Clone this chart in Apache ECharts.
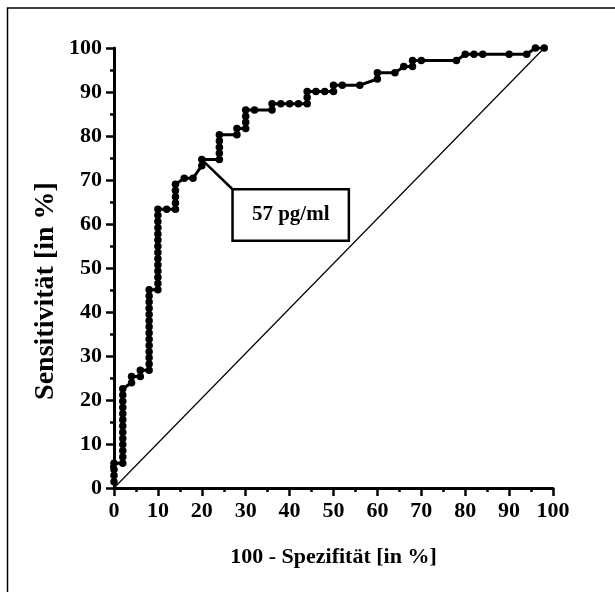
<!DOCTYPE html>
<html>
<head>
<meta charset="utf-8">
<script src="https://cdn.jsdelivr.net/npm/echarts@6/dist/echarts.min.js"></script>
<style>
html,body{margin:0;padding:0;background:#fff;}
#chart{width:615px;height:592px;}
</style>
</head>
<body>
<div id="chart"></div>
<script>
// 100 - Spezifität [%]
const fpr = [
  0,0,0,0,
  2,2,2,2,2,2,2,2,2,2,2,2,2,
  4,4,
  6,6,
  8,8,8,8,8,8,8,8,8,8,8,8,8,8,
  10,10,10,10,10,10,10,10,10,10,10,10,10,10,
  12,
  14,14,14,14,14,
  16,18,
  20,20,
  24,24,24,24,24,
  28,28,
  30,30,30,30,
  32,
  36,36,
  38,40,
  42,44,44,44,
  46,48,
  50,50,
  52,56,
  60,60,
  64,66,
  68,68,
  70,78,
  80,82,84,90,94,
  96,98
];
// Sensitivität [%]
const sens = [
  1.41,2.82,4.23,5.63,
  5.63,7.04,8.45,9.86,11.27,12.68,14.08,15.49,16.90,18.31,19.72,21.13,22.54,
  23.94,25.35,
  25.35,26.76,
  26.76,28.17,29.58,30.99,32.39,33.80,35.21,36.62,38.03,39.44,40.85,42.25,43.66,45.07,
  45.07,46.48,47.89,49.30,50.70,52.11,53.52,54.93,56.34,57.75,59.15,60.56,61.97,63.38,
  63.38,
  63.38,64.79,66.20,67.61,69.01,
  70.42,70.42,
  73.24,74.65,
  74.65,76.06,77.46,78.87,80.28,
  80.28,81.69,
  81.69,83.10,84.51,85.92,
  85.92,
  85.92,87.32,
  87.32,87.32,
  87.32,87.32,88.73,90.14,
  90.14,90.14,
  90.14,91.55,
  91.55,91.55,
  92.96,94.37,
  94.37,95.77,
  95.77,97.18,
  97.18,97.18,
  98.59,98.59,98.59,98.59,98.59,
  100,100
];
const xTicks = [0,10,20,30,40,50,60,70,80,90,100];
const yTicks = [0,10,20,30,40,50,60,70,80,90,100];
const diagonal = [[0,0],[98,100]];
const cutoffPoint = [20,74.65];
const cutoffLabel = '57 pg/ml';
const boxTopLeft = [27,67.9];
const boxBottomRight = [53.5,56.2];
const xTitle = '100 - Spezifität [in %]';
const yTitle = 'Sensitivität [in %]';

const rocData = fpr.map((x,i)=>[x,sens[i]]);
const font = 'Liberation Serif';
const axisCommon = {
  type:'value', min:0, max:100, interval:10,
  axisLine:{show:true, onZero:false, lineStyle:{color:'#000', width:3}},
  axisTick:{show:true, length:8, lineStyle:{color:'#000', width:2.5}},
  minorTick:{show:true, splitNumber:2, length:4, lineStyle:{color:'#000', width:2.5}},
  splitLine:{show:false}, minorSplitLine:{show:false},
  nameLocation:'middle',
  nameTextStyle:{fontFamily:font, fontWeight:'bold', fontSize:22, color:'#000'}
};
const chart = echarts.init(document.getElementById('chart'));
chart.setOption({
  animation:false,
  backgroundColor:'#fff',
  graphic:[
    {type:'rect', shape:{x:7.5, y:8, width:800, height:800}, style:{fill:null, stroke:'#000', lineWidth:1.5}, silent:true},
    {type:'text', x:46, y:291, rotation:Math.PI/2, silent:true,
      style:{text:yTitle, font:'bold 28px "Liberation Serif"', fill:'#000', textAlign:'center', textVerticalAlign:'middle'}}
  ],
  grid:{left:114, right:62, top:48, bottom:104},
  xAxis:Object.assign({}, axisCommon, {
    name:xTitle, nameGap:58,
    axisLabel:{fontFamily:font, fontWeight:'bold', fontSize:22, color:'#000', margin:12,
      formatter:v=>xTicks.includes(v)?String(v):''}
  }),
  yAxis:Object.assign({}, axisCommon, {
    axisLabel:{fontFamily:font, fontWeight:'bold', fontSize:22, color:'#000', margin:12,
      formatter:v=>yTicks.includes(v)?String(v):''}
  }),
  series:[
    {type:'line', data:diagonal, symbol:'none', lineStyle:{color:'#000', width:1.2}, silent:true, z:1},
    {type:'line', data:rocData, symbol:'circle', symbolSize:7.5, z:3,
      lineStyle:{color:'#000', width:3}, itemStyle:{color:'#000'},
      markLine:{silent:true, symbol:['none','none'], label:{show:false},
        lineStyle:{color:'#000', width:2.5, type:'solid'},
        data:[[{coord:cutoffPoint},{coord:boxTopLeft}]]},
      markArea:{silent:true,
        itemStyle:{color:'#fff', borderColor:'#000', borderWidth:2.5},
        label:{show:true, position:'inside', fontFamily:font, fontWeight:'bold', fontSize:21, color:'#000'},
        data:[[{name:cutoffLabel, coord:boxTopLeft},{coord:boxBottomRight}]]}
    }
  ]
});
</script>
</body>
</html>
